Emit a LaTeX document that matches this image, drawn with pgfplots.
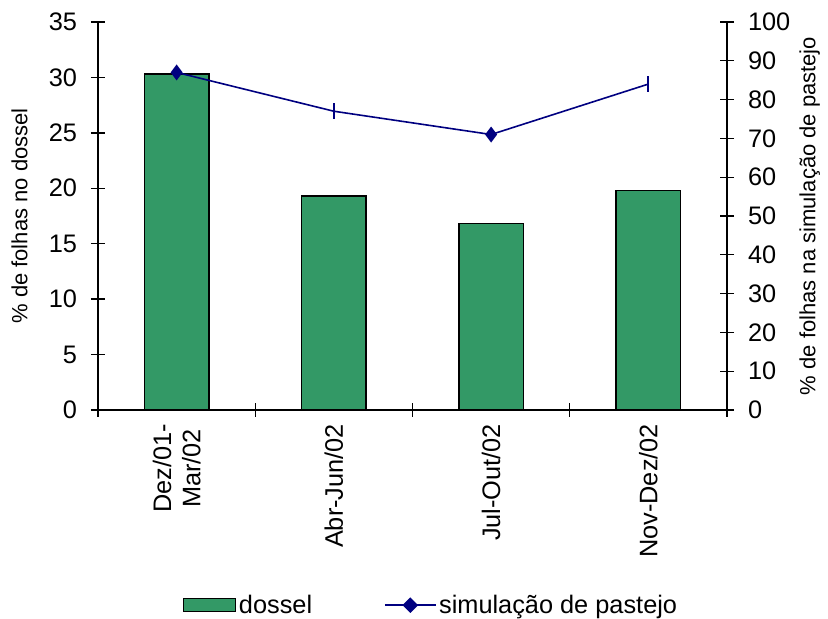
\documentclass[border=0pt]{standalone}
\usepackage{pgfplots}
\pgfplotsset{compat=1.18}
\usepackage{fontspec}
\setmainfont{Liberation Sans}
\definecolor{dossel}{RGB}{51,153,102}
\definecolor{navyline}{RGB}{0,0,128}
\pgfplotsset{
  common/.style={
    scale only axis, width=471.75pt, height=291pt,
    xmin=-0.5, xmax=3.5,
    axis line style={line width=1pt},
    every tick/.style={black, line width=1pt},
    tick align=center, major tick length=10.5pt,
    tick label style={font=\fontsize{19}{22}\selectfont},
    label style={font=\fontsize{16.5}{19}\selectfont},
    /pgf/number format/assume math mode=true,
  }
}
\begin{document}
\begin{tikzpicture}
\begin{axis}[common, name=main,
  ymin=0, ymax=35,
  axis x line*=bottom, axis y line*=left,
  xtick={-0.5,0.5,1.5,2.5,3.5}, xticklabels={},
  extra x ticks={0,1,2,3},
  extra x tick labels={{Dez/01-\\Mar/02},{Abr-Jun/02},{Jul-Out/02},{Nov-Dez/02}},
  extra x tick style={major tick length=0pt, xticklabel style={rotate=90, anchor=east, align=center, xshift=-7pt}},
  ytick={0,5,...,35},
  yticklabel style={xshift=-7pt},
  ylabel={\% de folhas no dossel},
  ylabel style={yshift=9pt},
]
\addplot[ybar, bar width=0.41, fill=dossel, draw=black, line width=1pt] coordinates {(0,30.3) (1,19.3) (2,16.8) (3,19.8)};
\end{axis}
\begin{axis}[common,
  ymin=0, ymax=100,
  axis y line*=right, axis x line=none,
  ytick={0,10,...,100},
  yticklabel style={xshift=7pt},
  ylabel={\% de folhas na simulação de pastejo},
  legend columns=2,
  legend style={at={(0.53,-0.503)}, anchor=center, draw=none, fill=none,
    font=\fontsize{19}{22}\selectfont,
    /tikz/every even column/.append style={column sep=52pt}},
]
\addlegendimage{legend image code/.code={\draw[fill=dossel,draw=black,line width=1pt] (0pt,-5pt) rectangle (39pt,5pt);}}
\addlegendentry{dossel}
\addplot[navyline, line width=1.2pt, mark=diamond*, mark size=5pt, mark indices={1,3},
  legend image code/.code={\draw[navyline,line width=1.2pt] (0pt,0pt) -- (38pt,0pt);
    \fill[navyline] (19pt,0pt) +(-5pt,0pt) -- +(0pt,5pt) -- +(5pt,0pt) -- +(0pt,-5pt) -- cycle;}]
  coordinates {(0,87) (1,77) (2,71) (3,84)};
\addlegendentry{simulação de pastejo}
\addplot[navyline, line width=1.5pt, only marks, mark=|, mark size=6pt, mark indices={2,4}, forget plot]
  coordinates {(0,87) (1,77) (2,71) (3,84)};
\end{axis}
\pgfresetboundingbox
\path[use as bounding box] ([shift={(-73.5pt,-156.75pt)}]main.south west) rectangle ([shift={(75.75pt,16.5pt)}]main.north east);
\end{tikzpicture}
\end{document}
